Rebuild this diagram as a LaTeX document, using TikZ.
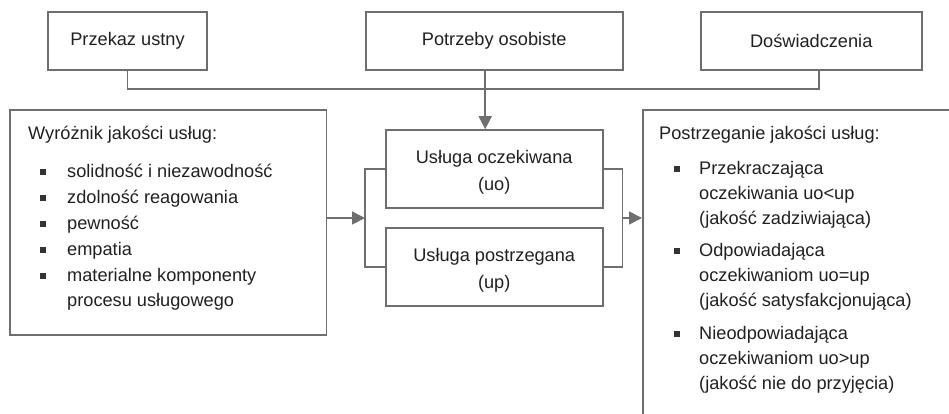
\documentclass[tikz,border=0pt]{standalone}
\usepackage{fontspec}
\setmainfont{Liberation Sans}
\usetikzlibrary{arrows.meta,calc}
\definecolor{ln}{HTML}{6D6E70}
\definecolor{tx}{HTML}{231F20}
\definecolor{bu}{HTML}{333333}
\newcommand\dfont{\fontsize{18.2}{27}\selectfont}
\begin{document}
\begin{tikzpicture}[x=1pt,y=-1pt,
  box/.style={draw=ln, line width=1.6pt, inner sep=0pt, text=tx, font=\dfont, align=center},
  lbl/.style={anchor=base west, inner sep=0pt, text=tx, font=\dfont},
  mid/.style={inner sep=0pt, text=tx, font=\dfont, align=center},
  bul/.style={fill=bu, minimum size=6pt, inner sep=0pt},
  conn/.style={draw=ln, line width=1.6pt},
  arr/.style={conn, -{Triangle[length=13pt,width=13pt]}}
]
\useasboundingbox (0,0) rectangle (949,413);
\clip (0,0) rectangle (949,413);

% top boxes
\node[box, minimum width=159pt, minimum height=58pt] (prz) at (127.5,41) {Przekaz ustny};
\node[box, minimum width=257pt, minimum height=58pt] (pot) at (494.2,41) {Potrzeby osobiste};
\node[box, minimum width=221pt, minimum height=58pt] (dos) at (811.2,41) {Doświadczenia};

% middle boxes
\node[box, minimum width=217pt, minimum height=78pt] (oc) at (494.2,169) {};
\node[mid] (ocT) at ($(oc.center)+(0,3.5)$) {Usługa oczekiwana\\(uo)};
\node[box, minimum width=217pt, minimum height=78pt] (op) at (494.2,267) {};
\node[mid] (opT) at ($(op.center)+(0,3.5)$) {Usługa postrzegana\\(up)};

% side boxes
\node[box, anchor=north west, minimum width=316.7pt, minimum height=225pt] (lbox) at (9,109) {};
\node[box, anchor=north west, minimum width=340pt, minimum height=340pt] (rbox) at (642,109) {};

% connectors from the top
\coordinate (hl) at (0,89);
\coordinate (dx) at ($(dos.south)+(8,0)$);
\coordinate (px) at ($(pot.south)+(-9,0)$);
\draw[conn] (prz.south) -- (prz.south |- hl) -- (dx |- hl) -- (dx);
\draw[arr] (px) -- (px |- oc.north);

% brackets
\coordinate (lb) at (365,218);
\coordinate (rb) at (622.3,218);
\draw[conn] (oc.west) -| (lb) |- (op.west);
\draw[conn] (oc.east) -| (rb) |- (op.east);
\draw[arr] (lbox.east |- lb) -- (lb);
\draw[arr] (rb) -- (rb -| rbox.west);

% left list
\node[lbl] (lt) at (28,139) {Wyróżnik jakości usług:};
\foreach \yy/\txt [count=\i] in {177/{solidność i niezawodność},203/{zdolność reagowania},229/{pewność},255/{empatia},281/{materialne komponenty}}{
  \node[bul] (lb\i) at (43,\yy-5.5) {};
  \node[lbl] (lt\i) at (67,\yy) {\txt};
}
\node[lbl] (lt6) at (67,306) {procesu usługowego};

% right list
\node[lbl] (rt) at (659,139) {Postrzeganie jakości usług:};
\node[bul] (rb1) at (677,168.5) {};
\node[lbl] (r11) at (699,174) {Przekraczająca};
\node[lbl] (r12) at (699,199) {oczekiwania uo<up};
\node[lbl] (r13) at (699,224) {(jakość zadziwiająca)};
\node[bul] (rb2) at (677,250.5) {};
\node[lbl] (r21) at (699,256) {Odpowiadająca};
\node[lbl] (r22) at (699,281) {oczekiwaniom uo=up};
\node[lbl] (r23) at (699,306) {(jakość satysfakcjonująca)};
\node[bul] (rb3) at (677,333.5) {};
\node[lbl] (r31) at (699,339) {Nieodpowiadająca};
\node[lbl] (r32) at (699,364) {oczekiwaniom uo>up};
\node[lbl] (r33) at (699,389) {(jakość nie do przyjęcia)};
\end{tikzpicture}
\end{document}
